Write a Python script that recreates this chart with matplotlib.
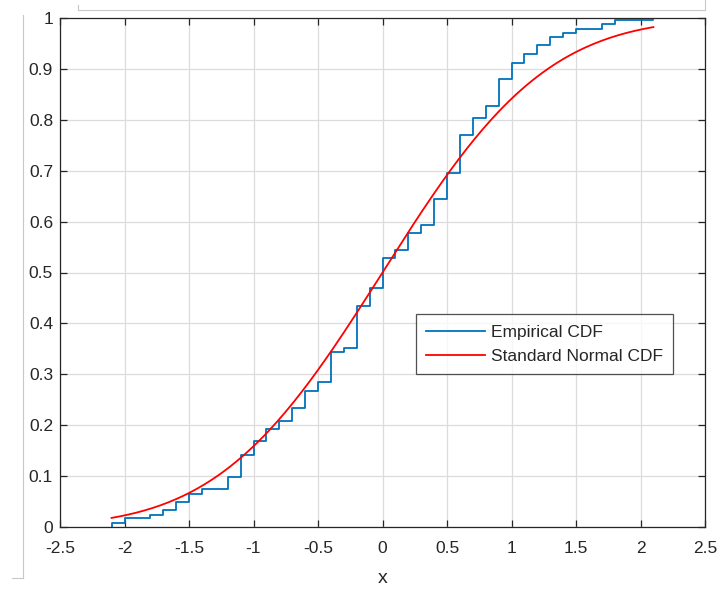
import math
import matplotlib
matplotlib.use("Agg")
import matplotlib.pyplot as plt
from matplotlib.lines import Line2D

# empirical CDF: jump locations and level reached after each jump
jump_x = [-2.1, -2.0, -1.8, -1.7, -1.6, -1.5, -1.4, -1.2, -1.1, -1.0,
          -0.9, -0.8, -0.7, -0.6, -0.5, -0.4, -0.3, -0.2, -0.1, 0.0,
          0.1, 0.2, 0.3, 0.4, 0.5, 0.6, 0.7, 0.8, 0.9, 1.0,
          1.1, 1.2, 1.3, 1.4, 1.5, 1.7, 1.8, 2.1]
jump_y = [0.0075, 0.017, 0.024, 0.033, 0.050, 0.065, 0.074, 0.099, 0.141, 0.168,
          0.192, 0.209, 0.233, 0.267, 0.284, 0.343, 0.351, 0.434, 0.469, 0.528,
          0.544, 0.578, 0.593, 0.644, 0.695, 0.770, 0.803, 0.828, 0.880, 0.912,
          0.929, 0.946, 0.962, 0.971, 0.979, 0.988, 0.996, 1.0]

x_ticks = [-2.5, -2, -1.5, -1, -0.5, 0, 0.5, 1, 1.5, 2, 2.5]
x_labels = ["-2.5", "-2", "-1.5", "-1", "-0.5", "0", "0.5", "1", "1.5", "2", "2.5"]
y_ticks = [0, 0.1, 0.2, 0.3, 0.4, 0.5, 0.6, 0.7, 0.8, 0.9, 1]
y_labels = ["0", "0.1", "0.2", "0.3", "0.4", "0.5", "0.6", "0.7", "0.8", "0.9", "1"]

labels = ["Empirical CDF", "Standard Normal CDF"]

plt.rcParams['font.family'] = ['Liberation Sans', 'DejaVu Sans']

W, H = 721, 590
fig = plt.figure(figsize=(W / 100, H / 100), dpi=100)
ax = fig.add_axes([60 / W, 1 - 527 / H, 645 / W, 509 / H])

blue = "#0072BD"
red = "#FF0000"
ink = "#262626"

# stairs
sx = [jump_x[0]] + jump_x
sy = [0.0] + jump_y
ax.step(sx, sy, where='post', color=blue, lw=1.3)

# theoretical curve
n = 200
xs = [jump_x[0] + (jump_x[-1] - jump_x[0]) * i / n for i in range(n + 1)]
ys = [0.5 * (1 + math.erf(v / math.sqrt(2))) for v in xs]
ax.plot(xs, ys, color=red, lw=1.3)

ax.set_xlim(-2.5, 2.5)
ax.set_ylim(0, 1)
ax.set_xticks(x_ticks)
ax.set_xticklabels(x_labels)
ax.set_yticks(y_ticks)
ax.set_yticklabels(y_labels)
ax.grid(True, color="#dcdcdc", lw=0.9)
ax.set_axisbelow(True)
ax.tick_params(direction='in', length=5, width=0.9, colors=ink, labelsize=12.5,
               top=True, right=True)
ax.tick_params(axis='x', pad=10)
ax.tick_params(axis='y', pad=5)
for s in ax.spines.values():
    s.set_color(ink)
    s.set_linewidth(0.9)
ax.set_xlabel("x", fontsize=14, color=ink, labelpad=10)

handles = [Line2D([], [], color=blue, lw=1.3), Line2D([], [], color=red, lw=1.3)]
leg = ax.legend(handles, labels, loc='upper left', bbox_to_anchor=(0.552, 0.418),
                fontsize=12.5, frameon=True, fancybox=False, handlelength=3.4,
                handletextpad=0.3, borderpad=0.6, labelspacing=0.5,
                borderaxespad=0)
leg.get_frame().set_edgecolor(ink)
leg.get_frame().set_linewidth(0.9)
for t in leg.get_texts():
    t.set_color(ink)

# screenshot border remnants
fig.add_artist(Line2D([23 / W, 23 / W], [1 - 15 / H, 1 - 578 / H], color="#c8c8c8", lw=0.8))
fig.add_artist(Line2D([12 / W, 23 / W], [1 - 578 / H, 1 - 578 / H], color="#c8c8c8", lw=0.8))
fig.add_artist(Line2D([78 / W, 705 / W], [1 - 10 / H, 1 - 10 / H], color="#c8c8c8", lw=0.8))
fig.add_artist(Line2D([78 / W, 78 / W], [1 - 5 / H, 1 - 10 / H], color="#c8c8c8", lw=0.8))
fig.add_artist(Line2D([705 / W, 705 / W], [1 - 0 / H, 1 - 10 / H], color="#c8c8c8", lw=0.8))

fig.savefig("out.png", dpi=100, facecolor="white")
